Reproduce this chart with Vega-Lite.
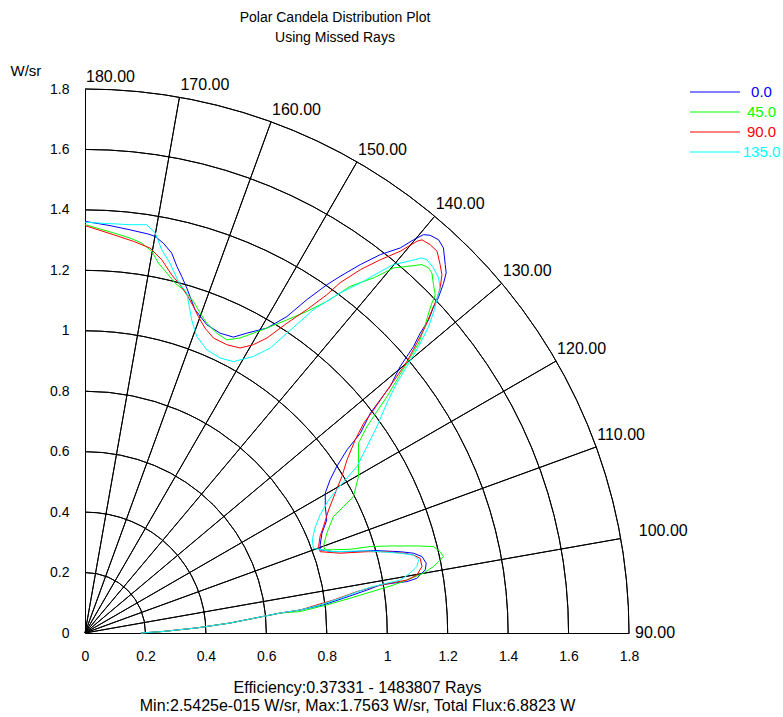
{
  "$schema": "https://vega.github.io/schema/vega-lite/v6.json",
  "width": 544,
  "height": 544,
  "autosize": {"type": "none"},
  "padding": {"left": 85, "top": 89, "right": 154, "bottom": 84},
  "background": "white",
  "title": {
    "text": ["Polar Candela Distribution Plot", "Using Missed Rays"],
    "fontSize": 14, "fontWeight": "normal", "color": "black", "lineHeight": 20,
    "anchor": "middle", "frame": "group", "dx": -22, "offset": 18
  },
  "datasets": {
    "rings": [{"r": 0.2}, {"r": 0.4}, {"r": 0.6}, {"r": 0.8}, {"r": 1.0}, {"r": 1.2}, {"r": 1.4}, {"r": 1.6}, {"r": 1.8}],
    "spokes": [{"a": 100}, {"a": 110}, {"a": 120}, {"a": 130}, {"a": 140}, {"a": 150}, {"a": 160}, {"a": 170}],
    "labels": [
      {"a": 90, "t": "90.00"}, {"a": 100, "t": "100.00"}, {"a": 110, "t": "110.00"}, {"a": 120, "t": "120.00"},
      {"a": 130, "t": "130.00"}, {"a": 140, "t": "140.00"}, {"a": 150, "t": "150.00"}, {"a": 160, "t": "160.00"},
      {"a": 170, "t": "170.00"}, {"a": 180, "t": "180.00"}
    ],
    "curves": [
      {"s":"0.0","x":0.185,"y":0},{"s":"0.0","x":0.258,"y":0.005},{"s":"0.0","x":0.371,"y":0.017},{"s":"0.0","x":0.480,"y":0.033},{"s":"0.0","x":0.646,"y":0.066},{"s":"0.0","x":0.712,"y":0.076},{"s":"0.0","x":0.789,"y":0.093},{"s":"0.0","x":0.855,"y":0.115},{"s":"0.0","x":0.933,"y":0.142},{"s":"0.0","x":0.977,"y":0.159},{"s":"0.0","x":1.021,"y":0.165},{"s":"0.0","x":1.065,"y":0.170},{"s":"0.0","x":1.098,"y":0.181},{"s":"0.0","x":1.126,"y":0.209},{"s":"0.0","x":1.129,"y":0.231},{"s":"0.0","x":1.115,"y":0.253},{"s":"0.0","x":1.087,"y":0.264},{"s":"0.0","x":1.043,"y":0.269},{"s":"0.0","x":0.955,"y":0.273},{"s":"0.0","x":0.877,"y":0.269},{"s":"0.0","x":0.822,"y":0.269},{"s":"0.0","x":0.778,"y":0.275},{"s":"0.0","x":0.778,"y":0.291},{"s":"0.0","x":0.784,"y":0.330},{"s":"0.0","x":0.800,"y":0.374},{"s":"0.0","x":0.795,"y":0.418},{"s":"0.0","x":0.795,"y":0.463},{"s":"0.0","x":0.811,"y":0.507},{"s":"0.0","x":0.833,"y":0.551},{"s":"0.0","x":0.867,"y":0.606},{"s":"0.0","x":0.911,"y":0.661},{"s":"0.0","x":0.944,"y":0.727},{"s":"0.0","x":0.977,"y":0.772},{"s":"0.0","x":1.010,"y":0.816},{"s":"0.0","x":1.043,"y":0.882},{"s":"0.0","x":1.065,"y":0.915},{"s":"0.0","x":1.087,"y":0.948},{"s":"0.0","x":1.109,"y":0.992},{"s":"0.0","x":1.137,"y":1.036},{"s":"0.0","x":1.152,"y":1.076},{"s":"0.0","x":1.169,"y":1.109},{"s":"0.0","x":1.186,"y":1.156},{"s":"0.0","x":1.195,"y":1.191},{"s":"0.0","x":1.192,"y":1.219},{"s":"0.0","x":1.186,"y":1.274},{"s":"0.0","x":1.170,"y":1.301},{"s":"0.0","x":1.142,"y":1.316},{"s":"0.0","x":1.120,"y":1.318},{"s":"0.0","x":1.087,"y":1.301},{"s":"0.0","x":1.043,"y":1.274},{"s":"0.0","x":0.977,"y":1.252},{"s":"0.0","x":0.911,"y":1.219},{"s":"0.0","x":0.844,"y":1.180},{"s":"0.0","x":0.800,"y":1.152},{"s":"0.0","x":0.734,"y":1.103},{"s":"0.0","x":0.668,"y":1.047},{"s":"0.0","x":0.602,"y":1.009},{"s":"0.0","x":0.535,"y":0.992},{"s":"0.0","x":0.491,"y":0.979},{"s":"0.0","x":0.447,"y":0.992},{"s":"0.0","x":0.403,"y":1.020},{"s":"0.0","x":0.364,"y":1.070},{"s":"0.0","x":0.337,"y":1.141},{"s":"0.0","x":0.320,"y":1.180},{"s":"0.0","x":0.304,"y":1.213},{"s":"0.0","x":0.287,"y":1.257},{"s":"0.0","x":0.259,"y":1.290},{"s":"0.0","x":0.232,"y":1.312},{"s":"0.0","x":0.210,"y":1.320},{"s":"0.0","x":0.149,"y":1.334},{"s":"0.0","x":0.083,"y":1.348},{"s":"0.0","x":0,"y":1.362},
      {"s":"45.0","x":0.185,"y":0},{"s":"45.0","x":0.258,"y":0.005},{"s":"45.0","x":0.371,"y":0.017},{"s":"45.0","x":0.480,"y":0.033},{"s":"45.0","x":0.646,"y":0.066},{"s":"45.0","x":0.712,"y":0.071},{"s":"45.0","x":0.800,"y":0.093},{"s":"45.0","x":0.877,"y":0.115},{"s":"45.0","x":0.966,"y":0.142},{"s":"45.0","x":1.021,"y":0.159},{"s":"45.0","x":1.065,"y":0.175},{"s":"45.0","x":1.120,"y":0.198},{"s":"45.0","x":1.153,"y":0.220},{"s":"45.0","x":1.170,"y":0.236},{"s":"45.0","x":1.186,"y":0.253},{"s":"45.0","x":1.175,"y":0.269},{"s":"45.0","x":1.153,"y":0.286},{"s":"45.0","x":1.098,"y":0.288},{"s":"45.0","x":1.010,"y":0.288},{"s":"45.0","x":0.944,"y":0.286},{"s":"45.0","x":0.877,"y":0.277},{"s":"45.0","x":0.795,"y":0.275},{"s":"45.0","x":0.789,"y":0.286},{"s":"45.0","x":0.800,"y":0.330},{"s":"45.0","x":0.822,"y":0.385},{"s":"45.0","x":0.855,"y":0.418},{"s":"45.0","x":0.888,"y":0.451},{"s":"45.0","x":0.905,"y":0.518},{"s":"45.0","x":0.905,"y":0.573},{"s":"45.0","x":0.905,"y":0.628},{"s":"45.0","x":0.933,"y":0.683},{"s":"45.0","x":0.966,"y":0.733},{"s":"45.0","x":0.999,"y":0.782},{"s":"45.0","x":1.032,"y":0.838},{"s":"45.0","x":1.065,"y":0.893},{"s":"45.0","x":1.104,"y":0.959},{"s":"45.0","x":1.123,"y":1.010},{"s":"45.0","x":1.137,"y":1.059},{"s":"45.0","x":1.148,"y":1.092},{"s":"45.0","x":1.159,"y":1.119},{"s":"45.0","x":1.153,"y":1.152},{"s":"45.0","x":1.148,"y":1.191},{"s":"45.0","x":1.137,"y":1.208},{"s":"45.0","x":1.115,"y":1.219},{"s":"45.0","x":1.065,"y":1.213},{"s":"45.0","x":1.021,"y":1.208},{"s":"45.0","x":0.955,"y":1.175},{"s":"45.0","x":0.877,"y":1.147},{"s":"45.0","x":0.844,"y":1.125},{"s":"45.0","x":0.800,"y":1.097},{"s":"45.0","x":0.734,"y":1.064},{"s":"45.0","x":0.668,"y":1.036},{"s":"45.0","x":0.602,"y":1.009},{"s":"45.0","x":0.557,"y":0.992},{"s":"45.0","x":0.513,"y":0.976},{"s":"45.0","x":0.469,"y":0.970},{"s":"45.0","x":0.436,"y":0.992},{"s":"45.0","x":0.403,"y":1.025},{"s":"45.0","x":0.381,"y":1.059},{"s":"45.0","x":0.359,"y":1.097},{"s":"45.0","x":0.325,"y":1.136},{"s":"45.0","x":0.298,"y":1.158},{"s":"45.0","x":0.271,"y":1.191},{"s":"45.0","x":0.243,"y":1.224},{"s":"45.0","x":0.221,"y":1.263},{"s":"45.0","x":0.188,"y":1.290},{"s":"45.0","x":0.149,"y":1.307},{"s":"45.0","x":0.094,"y":1.324},{"s":"45.0","x":0,"y":1.351},
      {"s":"90.0","x":0.185,"y":0},{"s":"90.0","x":0.258,"y":0.005},{"s":"90.0","x":0.371,"y":0.017},{"s":"90.0","x":0.480,"y":0.033},{"s":"90.0","x":0.646,"y":0.066},{"s":"90.0","x":0.712,"y":0.076},{"s":"90.0","x":0.767,"y":0.093},{"s":"90.0","x":0.822,"y":0.109},{"s":"90.0","x":0.900,"y":0.137},{"s":"90.0","x":0.955,"y":0.153},{"s":"90.0","x":1.010,"y":0.165},{"s":"90.0","x":1.065,"y":0.175},{"s":"90.0","x":1.098,"y":0.192},{"s":"90.0","x":1.115,"y":0.220},{"s":"90.0","x":1.109,"y":0.247},{"s":"90.0","x":1.087,"y":0.258},{"s":"90.0","x":1.054,"y":0.264},{"s":"90.0","x":0.999,"y":0.269},{"s":"90.0","x":0.933,"y":0.269},{"s":"90.0","x":0.844,"y":0.264},{"s":"90.0","x":0.778,"y":0.269},{"s":"90.0","x":0.773,"y":0.286},{"s":"90.0","x":0.778,"y":0.321},{"s":"90.0","x":0.789,"y":0.352},{"s":"90.0","x":0.806,"y":0.407},{"s":"90.0","x":0.828,"y":0.463},{"s":"90.0","x":0.850,"y":0.518},{"s":"90.0","x":0.867,"y":0.573},{"s":"90.0","x":0.894,"y":0.639},{"s":"90.0","x":0.922,"y":0.694},{"s":"90.0","x":0.955,"y":0.738},{"s":"90.0","x":0.993,"y":0.794},{"s":"90.0","x":1.032,"y":0.849},{"s":"90.0","x":1.065,"y":0.898},{"s":"90.0","x":1.098,"y":0.959},{"s":"90.0","x":1.126,"y":1.014},{"s":"90.0","x":1.146,"y":1.063},{"s":"90.0","x":1.165,"y":1.108},{"s":"90.0","x":1.175,"y":1.141},{"s":"90.0","x":1.181,"y":1.185},{"s":"90.0","x":1.175,"y":1.219},{"s":"90.0","x":1.165,"y":1.263},{"s":"90.0","x":1.142,"y":1.285},{"s":"90.0","x":1.115,"y":1.301},{"s":"90.0","x":1.098,"y":1.296},{"s":"90.0","x":1.043,"y":1.263},{"s":"90.0","x":0.977,"y":1.235},{"s":"90.0","x":0.911,"y":1.202},{"s":"90.0","x":0.844,"y":1.159},{"s":"90.0","x":0.800,"y":1.119},{"s":"90.0","x":0.734,"y":1.070},{"s":"90.0","x":0.668,"y":1.025},{"s":"90.0","x":0.602,"y":0.976},{"s":"90.0","x":0.557,"y":0.954},{"s":"90.0","x":0.513,"y":0.943},{"s":"90.0","x":0.469,"y":0.954},{"s":"90.0","x":0.425,"y":0.976},{"s":"90.0","x":0.397,"y":1.009},{"s":"90.0","x":0.375,"y":1.047},{"s":"90.0","x":0.359,"y":1.080},{"s":"90.0","x":0.337,"y":1.119},{"s":"90.0","x":0.315,"y":1.152},{"s":"90.0","x":0.287,"y":1.185},{"s":"90.0","x":0.254,"y":1.235},{"s":"90.0","x":0.215,"y":1.274},{"s":"90.0","x":0.160,"y":1.296},{"s":"90.0","x":0.094,"y":1.318},{"s":"90.0","x":0,"y":1.348},
      {"s":"135.0","x":0.185,"y":0},{"s":"135.0","x":0.258,"y":0.005},{"s":"135.0","x":0.371,"y":0.017},{"s":"135.0","x":0.480,"y":0.033},{"s":"135.0","x":0.646,"y":0.066},{"s":"135.0","x":0.712,"y":0.076},{"s":"135.0","x":0.778,"y":0.093},{"s":"135.0","x":0.844,"y":0.115},{"s":"135.0","x":0.933,"y":0.148},{"s":"135.0","x":0.999,"y":0.165},{"s":"135.0","x":1.043,"y":0.175},{"s":"135.0","x":1.076,"y":0.198},{"s":"135.0","x":1.098,"y":0.220},{"s":"135.0","x":1.104,"y":0.242},{"s":"135.0","x":1.087,"y":0.258},{"s":"135.0","x":1.043,"y":0.264},{"s":"135.0","x":0.933,"y":0.272},{"s":"135.0","x":0.822,"y":0.269},{"s":"135.0","x":0.756,"y":0.280},{"s":"135.0","x":0.752,"y":0.308},{"s":"135.0","x":0.762,"y":0.351},{"s":"135.0","x":0.778,"y":0.391},{"s":"135.0","x":0.806,"y":0.440},{"s":"135.0","x":0.838,"y":0.480},{"s":"135.0","x":0.867,"y":0.513},{"s":"135.0","x":0.900,"y":0.551},{"s":"135.0","x":0.933,"y":0.617},{"s":"135.0","x":0.966,"y":0.683},{"s":"135.0","x":0.999,"y":0.761},{"s":"135.0","x":1.032,"y":0.827},{"s":"135.0","x":1.065,"y":0.882},{"s":"135.0","x":1.104,"y":0.948},{"s":"135.0","x":1.137,"y":1.014},{"s":"135.0","x":1.156,"y":1.070},{"s":"135.0","x":1.165,"y":1.108},{"s":"135.0","x":1.175,"y":1.136},{"s":"135.0","x":1.170,"y":1.175},{"s":"135.0","x":1.153,"y":1.208},{"s":"135.0","x":1.131,"y":1.235},{"s":"135.0","x":1.115,"y":1.241},{"s":"135.0","x":1.065,"y":1.229},{"s":"135.0","x":1.021,"y":1.219},{"s":"135.0","x":0.977,"y":1.196},{"s":"135.0","x":0.911,"y":1.158},{"s":"135.0","x":0.844,"y":1.125},{"s":"135.0","x":0.756,"y":1.070},{"s":"135.0","x":0.668,"y":0.992},{"s":"135.0","x":0.613,"y":0.943},{"s":"135.0","x":0.557,"y":0.915},{"s":"135.0","x":0.491,"y":0.898},{"s":"135.0","x":0.447,"y":0.910},{"s":"135.0","x":0.403,"y":0.937},{"s":"135.0","x":0.370,"y":0.981},{"s":"135.0","x":0.353,"y":1.036},{"s":"135.0","x":0.337,"y":1.125},{"s":"135.0","x":0.309,"y":1.163},{"s":"135.0","x":0.281,"y":1.224},{"s":"135.0","x":0.254,"y":1.268},{"s":"135.0","x":0.232,"y":1.324},{"s":"135.0","x":0.204,"y":1.351},{"s":"135.0","x":0.149,"y":1.351},{"s":"135.0","x":0,"y":1.359}
    ]
  },
  "layer": [
    {
      "data": {"name": "rings"},
      "mark": {"type": "arc", "theta": 0, "theta2": 1.5707963, "filled": false, "color": "black", "strokeWidth": 1},
      "encoding": {
        "x": {"datum": 0, "type": "quantitative", "scale": {"domain": [0, 1.8], "nice": false, "zero": false}},
        "y": {"datum": 0, "type": "quantitative", "scale": {"domain": [0, 1.8], "nice": false, "zero": false}},
        "radius": {"field": "r", "type": "quantitative", "scale": {"type": "linear", "domain": [0, 1.8], "range": [0, 544], "zero": false, "nice": false}},
        "radius2": {"field": "r"}
      }
    },
    {
      "data": {"name": "spokes"},
      "mark": {"type": "arc", "filled": false, "color": "black", "strokeWidth": 1},
      "encoding": {
        "x": {"datum": 0, "type": "quantitative"},
        "y": {"datum": 0, "type": "quantitative"},
        "theta": {"field": "a", "type": "quantitative", "stack": null, "scale": {"type": "linear", "domain": [90, 180], "range": [1.5707963, 0], "zero": false, "nice": false}},
        "theta2": {"field": "a"},
        "radius": {"datum": 1.8, "type": "quantitative"},
        "radius2": {"datum": 0}
      }
    },
    {
      "data": {"name": "labels"},
      "transform": [{"filter": "datum.a >= 110"}],
      "mark": {"type": "text", "align": "left", "baseline": "middle", "fontSize": 16, "color": "black", "dx": 1, "dy": -12},
      "encoding": {
        "x": {"datum": 0, "type": "quantitative"},
        "y": {"datum": 0, "type": "quantitative"},
        "theta": {"field": "a", "type": "quantitative", "stack": null},
        "radius": {"datum": 1.8, "type": "quantitative"},
        "text": {"field": "t"}
      }
    },
    {
      "data": {"name": "labels"},
      "transform": [{"filter": "datum.a == 100"}],
      "mark": {"type": "text", "align": "left", "baseline": "middle", "fontSize": 16, "color": "black", "dx": 18, "dy": -8},
      "encoding": {
        "x": {"datum": 0, "type": "quantitative"},
        "y": {"datum": 0, "type": "quantitative"},
        "theta": {"field": "a", "type": "quantitative", "stack": null},
        "radius": {"datum": 1.8, "type": "quantitative"},
        "text": {"field": "t"}
      }
    },
    {
      "data": {"name": "labels"},
      "transform": [{"filter": "datum.a == 90"}],
      "mark": {"type": "text", "align": "left", "baseline": "middle", "fontSize": 16, "color": "black", "dx": 6, "dy": 0},
      "encoding": {
        "x": {"datum": 0, "type": "quantitative"},
        "y": {"datum": 0, "type": "quantitative"},
        "theta": {"field": "a", "type": "quantitative", "stack": null},
        "radius": {"datum": 1.8, "type": "quantitative"},
        "text": {"field": "t"}
      }
    },
    {
      "data": {"name": "curves"},
      "mark": {"type": "line", "strokeWidth": 1},
      "encoding": {
        "x": {
          "field": "x", "type": "quantitative",
          "scale": {"domain": [0, 1.8], "nice": false, "zero": false},
          "axis": {
            "values": [0, 0.2, 0.4, 0.6, 0.8, 1, 1.2, 1.4, 1.6, 1.8], "format": "~g",
            "grid": false, "ticks": false, "tickSize": 0, "labelPadding": 16, "labelFontSize": 14,
            "labelColor": "black", "labelFlush": false, "labelOverlap": false, "domainColor": "black",
            "title": ["Efficiency:0.37331 - 1483807 Rays", "Min:2.5425e-015 W/sr, Max:1.7563 W/sr, Total Flux:6.8823 W"],
            "titleFontSize": 16, "titleFontWeight": "normal", "titleColor": "black", "titleLineHeight": 18,
            "titleBaseline": "top", "titleY": 46
          }
        },
        "y": {
          "field": "y", "type": "quantitative",
          "scale": {"domain": [0, 1.8], "nice": false, "zero": false},
          "axis": {
            "values": [0, 0.2, 0.4, 0.6, 0.8, 1, 1.2, 1.4, 1.6, 1.8], "format": "~g",
            "grid": false, "ticks": false, "tickSize": 0, "labelPadding": 16, "labelFontSize": 14,
            "labelColor": "black", "labelFlush": false, "labelOverlap": false, "domainColor": "black",
            "title": "W/sr", "titleAngle": 0, "titleAlign": "left", "titleBaseline": "middle",
            "titleX": -75, "titleY": -19, "titleFontSize": 15, "titleFontWeight": "normal", "titleColor": "black"
          }
        },
        "color": {
          "field": "s", "type": "nominal",
          "scale": {"domain": ["0.0", "45.0", "90.0", "135.0"], "range": ["#0000ff", "#00ff00", "#ff0000", "#00ffff"]},
          "legend": {
            "title": null, "orient": "none", "legendX": 619.5, "legendY": -7.5, "padding": 0,
            "symbolType": "M-2.5,0H2.5", "symbolSize": 400, "symbolStrokeWidth": 1,
            "labelAlign": "center", "labelOffset": 36, "labelFontSize": 15, "rowPadding": 1,
            "labelBaseline": "middle",
            "encode": {
              "labels": {"update": {"fill": {"scale": "color", "field": "value"}}},
              "symbols": {"update": {"stroke": {"scale": "color", "field": "value"}, "strokeOpacity": {"value": 1}}}
            }
          }
        },
        "order": {"value": null}
      }
    }
  ],
  "config": {
    "view": {"stroke": null},
    "font": "Liberation Sans"
  }
}
